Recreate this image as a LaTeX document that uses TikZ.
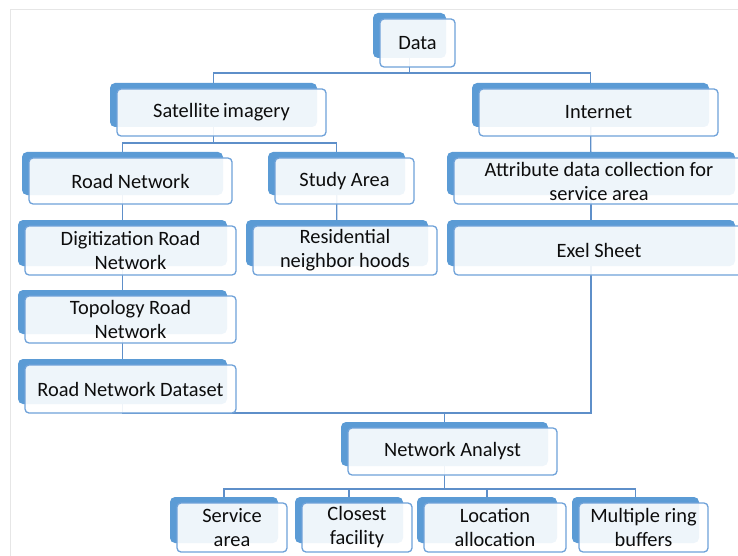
\documentclass[tikz,border=0pt]{standalone}
\usepackage{fontspec}
\setmainfont{Carlito}
\definecolor{tabblue}{HTML}{5B9BD5}
\definecolor{rimblue}{HTML}{6FA2D9}
\definecolor{linkblue}{HTML}{5E8FC9}
\definecolor{framegray}{HTML}{E6E6E6}
\pgfdeclarelayer{bg}
\pgfsetlayers{bg,main}
\tikzset{
  backbox/.style={draw=none, fill=tabblue, rounded corners=5pt, inner sep=0pt, outer sep=0pt},
  frontbox/.style={draw=rimblue, line width=1.3pt, fill=white, fill opacity=0.9, text opacity=1,
    rounded corners=4pt, inner sep=0pt, outer sep=0pt, align=center, text=black!95,
    font=\fontsize{20.4}{24}\selectfont},
  link/.style={draw=linkblue, line width=1.3pt},
}
% #1 name, #2-#5 corners of the blue tab (left, top, right, bottom), #6 label
\newcommand\flowbox[6]{%
  \node[backbox, minimum width={#4pt-#2pt}, minimum height={#5pt-#3pt}]
    (#1b) at ({(#2+#4)/2},{(#3+#5)/2}) {};
  \node[frontbox, minimum width={#4pt-#2pt+2pt}, minimum height={#5pt-#3pt+3pt}]
    (#1) at ({(#2+#4)/2+8},{(#3+#5)/2+7.5}) {#6};
}
\begin{document}
\begin{tikzpicture}[x=1pt,y=-1pt]
\useasboundingbox (0,0) rectangle (738,556);
\draw[framegray, line width=1pt] (10,556) -- (10,10) -- (738,10);

\flowbox{data}{373}{13}{446}{58}{Data}
\flowbox{sat}{110}{83}{317}{127}{Satellite\,imagery}
\flowbox{inet}{472}{83}{709}{127}{Internet}
\flowbox{road}{22}{152}{223}{195}{Road Network}
\flowbox{study}{268}{152}{405}{195}{Study Area}
\flowbox{attr}{447}{152}{735}{195}{Attribute data collection for\\service area}
\flowbox{digit}{18}{220}{227}{266}{Digitization Road\\Network}
\flowbox{resid}{246}{220}{428}{266}{Residential\\neighbor hoods}
\flowbox{exel}{447}{220}{735}{266}{Exel Sheet}
\flowbox{topo}{18}{290}{227}{334}{Topology Road\\Network}
\flowbox{dataset}{18}{359}{227}{404}{Road Network Dataset}
\flowbox{netan}{341}{422}{548}{466}{Network Analyst}
\flowbox{service}{170}{497}{278}{543}{Service\\area}
\flowbox{closest}{295}{497}{403}{543}{Closest\\facility}
\flowbox{locat}{417}{497}{557}{543}{Location\\allocation}
\flowbox{multi}{572}{497}{699}{543}{Multiple ring\\buffers}

% bus levels of the tree
\coordinate (busA) at (0,73);
\coordinate (busB) at (0,143);
\coordinate (busC) at (0,413);
\coordinate (busD) at (0,489);

\begin{pgfonlayer}{bg}
  \draw[link] (datab.center) -- (datab.center |- busA);
  \draw[link] (satb.center) |- (inetb.center |- busA) -- (inetb.center);
  \draw[link] (satb.center) -- (satb.center |- busB);
  \draw[link] (roadb.center) |- (studyb.center |- busB) -- (studyb.center);
  \draw[link] (roadb.center) -- (digitb.center);
  \draw[link] (digitb.center) -- (topob.center);
  \draw[link] (topob.center) -- (datasetb.center);
  \draw[link] (studyb.center) -- (residb.center);
  \draw[link] (inetb.center) -- (attrb.center);
  \draw[link] (attrb.center) -- (exelb.center);
  \draw[link] (datasetb.center) |- (exelb.center |- busC) -- (exelb.center);
  \draw[link] (netanb.center) -- (netanb.center |- busC);
  \draw[link] (netanb.center) -- (netanb.center |- busD);
  \draw[link] (serviceb.center) |- (multib.center |- busD) -- (multib.center);
  \draw[link] (closestb.center) -- (closestb.center |- busD);
  \draw[link] (locatb.center) -- (locatb.center |- busD);
\end{pgfonlayer}
\end{tikzpicture}
\end{document}
